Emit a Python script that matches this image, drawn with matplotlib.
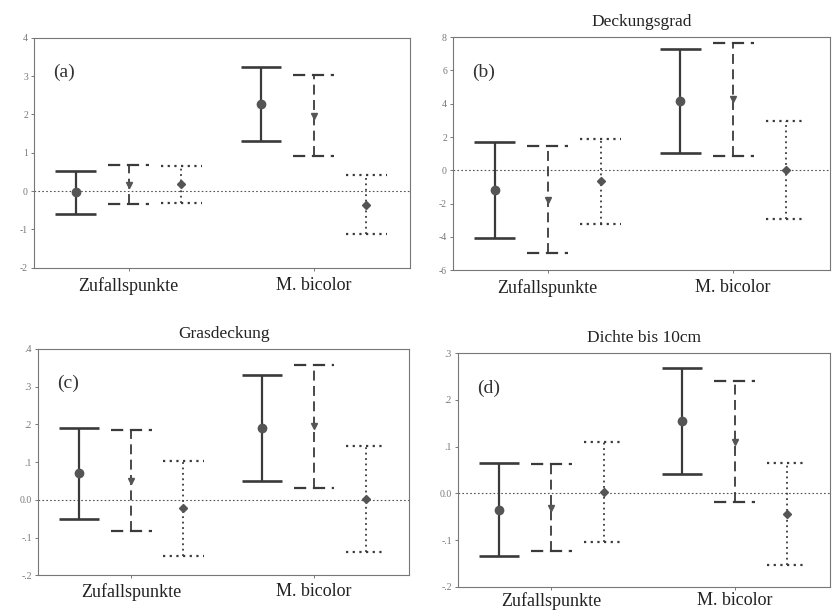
import numpy as np
import matplotlib
matplotlib.use('Agg')
import matplotlib.pyplot as plt

plt.rcParams['font.family'] = ['Liberation Serif', 'DejaVu Serif']

# Kategorien und drei Messreihen je Kategorie (Mittelwert +/- Fehler)
categories = ['Zufallspunkte', 'M. bicolor']

# (a)
mean_a = [[-0.03, 0.17, 0.18], [2.27, 1.97, -0.35]]
err_a = [[0.56, 0.50, 0.48], [0.96, 1.06, 0.76]]
# (b) Deckungsgrad
mean_b = [[-1.17, -1.77, -0.66], [4.18, 4.28, 0.02]]
err_b = [[2.88, 3.22, 2.55], [3.13, 3.40, 2.94]]
# (c) Grasdeckung
mean_c = [[0.070, 0.051, -0.023], [0.190, 0.195, 0.002]]
err_c = [[0.121, 0.135, 0.127], [0.140, 0.163, 0.141]]
# (d) Dichte bis 10cm
mean_d = [[-0.035, -0.031, 0.003], [0.155, 0.111, -0.045]]
err_d = [[0.099, 0.093, 0.107], [0.114, 0.130, 0.109]]

titles = ['', 'Deckungsgrad', 'Grasdeckung', 'Dichte bis 10cm']
panel_labels = ['(a)', '(b)', '(c)', '(d)']

ylims = [(-2, 4), (-6, 8), (-0.2, 0.4), (-0.2, 0.3)]
yticks_a = [-2, -1, 0, 1, 2, 3, 4]
yticks_b = [-6, -4, -2, 0, 2, 4, 6, 8]
yticks_c = [-0.2, -0.1, 0.0, 0.1, 0.2, 0.3, 0.4]
ylabels_c = ['-.2', '-.1', '0.0', '.1', '.2', '.3', '.4']
yticks_d = [-0.2, -0.1, 0.0, 0.1, 0.2, 0.3]
ylabels_d = ['-.2', '-.1', '0.0', '.1', '.2', '.3']

# Stil je Reihe
offsets = [-0.285, 0.0, 0.285]
styles = ['solid', (0, (5.5, 3)), (0, (1, 2))]
widths = [1.6, 1.3, 1.3]
markers = ['o', 'v', 'D']
msizes = [6, 4.5, 4]
cap = 0.11
col = '#3a3a3a'

fig = plt.figure(figsize=(8.33, 6.10), dpi=100)
boxes = [[0.041, 0.561, 0.451, 0.377],
         [0.544, 0.557, 0.452, 0.382],
         [0.046, 0.057, 0.445, 0.371],
         [0.550, 0.038, 0.446, 0.383]]
xpads = [4, 4, 3, 1]

means = [mean_a, mean_b, mean_c, mean_d]
errs = [err_a, err_b, err_c, err_d]
yticks = [yticks_a, yticks_b, yticks_c, yticks_d]
ylabels = [[str(t) for t in yticks_a], [str(t) for t in yticks_b], ylabels_c, ylabels_d]

for k in range(4):
    ax = fig.add_axes(boxes[k])
    ax.axhline(0, color='#555555', lw=0.8, ls=(0, (1.5, 2)), zorder=1)
    for i, cat in enumerate(categories):
        for j in range(3):
            x = i + 1 + offsets[j]
            m = means[k][i][j]
            e = errs[k][i][j]
            ax.vlines(x, m - e, m + e, colors=col, linestyles=styles[j], lw=widths[j])
            ax.hlines([m - e, m + e], x - cap, x + cap, colors=col,
                      linestyles=styles[j], lw=widths[j] + 0.3)
            ax.plot(x, m, marker=markers[j], ms=msizes[j], color='#555555', ls='none')
    ax.set_xlim(0.49, 2.52)
    ax.set_ylim(ylims[k])
    ax.set_xticks([1, 2])
    ax.set_xticklabels(categories, fontsize=13)
    ax.set_yticks(yticks[k])
    ax.set_yticklabels(ylabels[k], fontsize=7, color='#666666')
    ax.tick_params(axis='both', direction='out', length=2.5, width=0.7, colors='#777777', pad=2)
    ax.tick_params(axis='x', labelcolor='#222222', pad=xpads[k])
    for s in ax.spines.values():
        s.set_color('#777777')
        s.set_linewidth(0.8)
    ax.text(0.05, 0.85, panel_labels[k], transform=ax.transAxes, fontsize=14,
            va='center', ha='left', color='#333333')
    if titles[k]:
        ax.set_title(titles[k], fontsize=12.5, color='#222222', pad=8)

fig.savefig('out.png', dpi=100)
